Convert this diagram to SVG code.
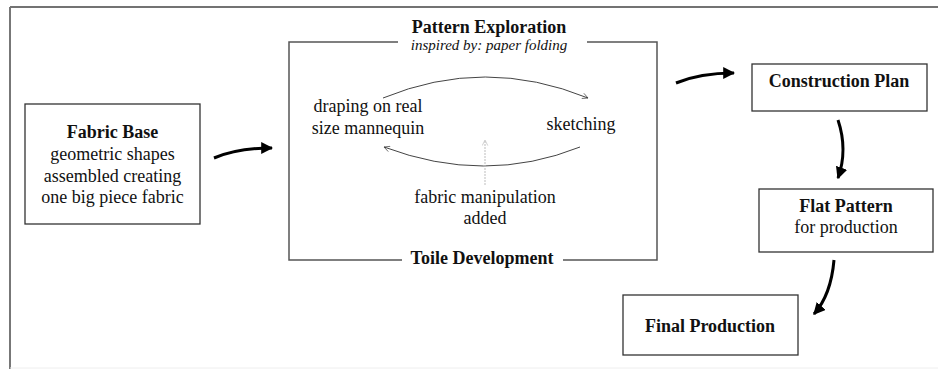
<svg xmlns="http://www.w3.org/2000/svg" width="938" height="369" viewBox="0 0 938 369">
  <style>
    .box { fill: #fff; stroke: #333; stroke-width: 1.3; }
    .frame { fill: none; stroke: #555; stroke-width: 1.5; }
    text { font-family: 'Liberation Serif', 'DejaVu Serif', serif; font-size: 18px; fill: #111; text-anchor: middle; }
    .b { font-weight: bold; }
    .i { font-style: italic; font-size: 15px; }
    .flow { fill: none; stroke: #000; stroke-width: 3; }
    .loop { fill: none; stroke: #444; stroke-width: 1; }
    .hint { fill: none; stroke: #bdbdbd; stroke-width: 1; stroke-dasharray: 2 1; }
  </style>
  <defs>
    <marker id="head" viewBox="0 0 10 10" refX="9" refY="5" markerWidth="4" markerHeight="4" orient="auto" markerUnits="strokeWidth">
      <path d="M0,0 L10,5 L0,10 z" fill="#000"/>
    </marker>
    <marker id="open" viewBox="0 0 10 10" refX="9" refY="5" markerWidth="7" markerHeight="7" orient="auto" markerUnits="strokeWidth">
      <path d="M1,1 L9,5 L1,9" fill="none" stroke="#444" stroke-width="1"/>
    </marker>
    <marker id="openGray" viewBox="0 0 10 10" refX="9" refY="5" markerWidth="7" markerHeight="7" orient="auto" markerUnits="strokeWidth">
      <path d="M1,1 L9,5 L1,9" fill="none" stroke="#bdbdbd" stroke-width="1"/>
    </marker>
  </defs>

  <!-- page frame -->
  <rect x="0" y="0" width="938" height="369" fill="#fff"/>
  <line x1="10" y1="7" x2="938" y2="7" stroke="#444" stroke-width="1.5"/>
  <line x1="10" y1="7" x2="10" y2="369" stroke="#777" stroke-width="2"/>
  <line x1="10" y1="368" x2="938" y2="368" stroke="#eee" stroke-width="1"/>

  <g id="fabric-base">
    <rect class="box" x="25" y="104" width="175" height="120"/>
    <text class="b" x="112.5" y="138">Fabric Base</text>
    <text x="112.5" y="160">geometric shapes</text>
    <text x="112.5" y="182">assembled creating</text>
    <text x="112.5" y="203">one big piece fabric</text>
  </g>

  <g id="pattern-exploration">
    <path class="frame" d="M398,42 H289 V260 H402" stroke="#333"/>
    <path class="frame" d="M587,42 H657 V260 H563"/>
    <text class="b" x="489" y="33">Pattern Exploration</text>
    <text class="i" x="489" y="50">inspired by: paper folding</text>
    <text class="b" x="482" y="264">Toile Development</text>
    <text x="368" y="112">draping on real</text>
    <text x="368" y="134">size mannequin</text>
    <text x="581" y="130">sketching</text>
    <text x="485" y="203">fabric manipulation</text>
    <text x="485" y="224">added</text>
  </g>

  <g id="construction-plan">
    <rect class="box" x="752" y="64" width="175" height="47"/>
    <text class="b" x="839" y="87">Construction Plan</text>
  </g>

  <g id="flat-pattern">
    <rect class="box" x="759" y="189" width="174" height="63"/>
    <text class="b" x="846" y="212">Flat Pattern</text>
    <text x="846" y="233">for production</text>
  </g>

  <g id="final-production">
    <rect class="box" x="623" y="295" width="175" height="60"/>
    <text class="b" x="710" y="332">Final Production</text>
  </g>

  <g id="connectors">
    <path class="flow" d="M214,158 Q238,148 272,148" marker-end="url(#head)"/>
    <path class="flow" d="M676,83 Q700,73 734,73" marker-end="url(#head)"/>
    <path class="flow" d="M838,120 Q848,150 838,178" marker-end="url(#head)"/>
    <path class="flow" d="M834,260 Q831,295 814,314" marker-end="url(#head)"/>
    <path class="loop" d="M383,98 Q485,56 588,98" marker-end="url(#open)"/>
    <path class="loop" d="M580,147 Q485,185 384,147" marker-end="url(#open)"/>
    <path class="hint" d="M485,185 V140" marker-end="url(#openGray)"/>
  </g>
</svg>
